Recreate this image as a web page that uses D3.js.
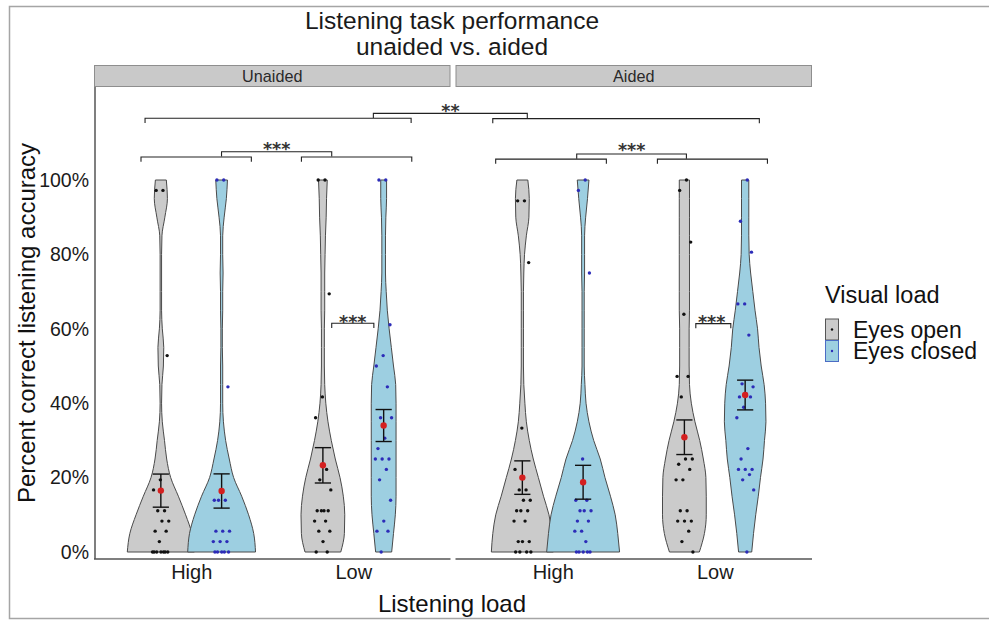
<!DOCTYPE html>
<html>
<head>
<meta charset="utf-8">
<script src="https://cdn.jsdelivr.net/npm/d3@7"></script>
<style>
  body { margin: 0; background: #fff; }
  svg { display: block; font-family: "Liberation Sans", Arial, sans-serif; }
</style>
</head>
<body>
<svg id="chart"></svg>
<script>
const panels = ['Unaided', 'Aided'];
const loads = ['High', 'Low'];
const visualLoads = ['Eyes open', 'Eyes closed'];
const yTicks = [0, 20, 40, 60, 80, 100];

// percent correct per participant (read from the jittered points)
const unaidedHighOpen = [97.2, 97.2, 52.8, 19.4, 16.7, 11.1, 11.1, 8.3, 8.3, 5.6, 5.6, 2.8, 0, 0, 0, 0, 0, 0, 0];
const unaidedHighClosed = [100, 100, 44.4, 16.7, 13.9, 13.9, 13.9, 5.6, 5.6, 5.6, 2.8, 2.8, 2.8, 0, 0, 0, 0, 0];
const unaidedLowOpen = [100, 100, 69.4, 41.7, 36.1, 22.2, 19.4, 16.7, 11.1, 11.1, 11.1, 11.1, 8.3, 8.3, 5.6, 5.6, 2.8, 0, 0];
const unaidedLowClosed = [100, 100, 61.1, 52.8, 50, 44.4, 36.1, 36.1, 30.6, 27.8, 25, 25, 25, 22.2, 19.4, 13.9, 8.3, 5.6, 5.6, 0];
const aidedHighOpen = [94.4, 94.4, 77.8, 33.3, 22.2, 16.7, 16.7, 13.9, 13.9, 11.1, 11.1, 11.1, 8.3, 8.3, 2.8, 2.8, 2.8, 0, 0, 0, 0];
const aidedHighClosed = [100, 97.2, 75, 25, 13.9, 13.9, 11.1, 11.1, 11.1, 8.3, 8.3, 5.6, 5.6, 2.8, 0, 0, 0, 0, 0];
const aidedLowOpen = [100, 97.2, 83.3, 63.9, 47.2, 47.2, 41.7, 25, 25, 23.6, 22.2, 19.4, 19.4, 11.1, 11.1, 8.3, 8.3, 8.3, 5.6, 2.8, 0];
const aidedLowClosed = [100, 88.9, 80.6, 66.7, 66.7, 58.3, 45.2, 44.4, 42.5, 41.7, 41.7, 38.9, 36.1, 27.8, 25, 22.2, 22.2, 22.2, 20.8, 19.4, 16.7, 0];

// violin density (relative to the widest violin) at these percent levels
const violinLevels = [0, 5, 10, 15, 20, 25, 30, 35, 40, 45, 50, 55, 60, 65, 70, 75, 80, 85, 90, 95, 100];
const densUnaidedHighOpen = [0.92, 0.85, 0.68, 0.48, 0.27, 0.16, 0.10, 0.04, 0.02, 0.03, 0.07, 0.08, 0.04, 0.02, 0.02, 0.02, 0.02, 0.03, 0.11, 0.18, 0.15];
const densUnaidedHighClosed = [0.93, 0.88, 0.74, 0.55, 0.33, 0.21, 0.11, 0.05, 0.03, 0.03, 0.03, 0.02, 0.02, 0.03, 0.03, 0.04, 0.03, 0.03, 0.07, 0.13, 0.16];
const densUnaidedLowOpen = [0.49, 0.59, 0.60, 0.56, 0.47, 0.34, 0.23, 0.14, 0.08, 0.05, 0.04, 0.04, 0.04, 0.05, 0.05, 0.05, 0.06, 0.07, 0.09, 0.10, 0.12];
const densUnaidedLowClosed = [0.22, 0.27, 0.32, 0.34, 0.34, 0.34, 0.34, 0.34, 0.34, 0.33, 0.27, 0.21, 0.15, 0.10, 0.07, 0.05, 0.05, 0.05, 0.06, 0.08, 0.08];
const densAidedHighOpen = [0.85, 0.81, 0.73, 0.58, 0.44, 0.30, 0.19, 0.11, 0.07, 0.04, 0.03, 0.03, 0.03, 0.03, 0.03, 0.04, 0.06, 0.11, 0.18, 0.19, 0.15];
const densAidedHighClosed = [1.00, 0.95, 0.88, 0.75, 0.60, 0.47, 0.29, 0.16, 0.08, 0.05, 0.03, 0.03, 0.03, 0.03, 0.03, 0.04, 0.04, 0.04, 0.07, 0.12, 0.16];
const densAidedLowOpen = [0.41, 0.55, 0.60, 0.60, 0.59, 0.52, 0.42, 0.29, 0.19, 0.14, 0.13, 0.13, 0.13, 0.14, 0.14, 0.14, 0.14, 0.14, 0.14, 0.14, 0.14];
const densAidedLowClosed = [0.18, 0.23, 0.29, 0.36, 0.42, 0.49, 0.53, 0.57, 0.56, 0.52, 0.44, 0.38, 0.34, 0.27, 0.21, 0.15, 0.11, 0.10, 0.10, 0.10, 0.10];

// mean and error bar half-length, order: High/open, High/closed, Low/open, Low/closed
const meansUnaided = [16.5, 16.4, 23.3, 34.0];
const errUnaided = [4.45, 4.6, 4.75, 4.3];
const meansAided = [20.0, 18.75, 30.85, 42.2];
const errAided = [4.5, 4.55, 4.65, 4.0];

// significance brackets, x in category units (High = 1, Low = 2), y in percent
const brackets = [
  { panel: 0, x1: 0.690, x2: 1.371, y: 106.2 },
  { panel: 0, x1: 1.680, x2: 2.361, y: 106.2 },
  { panel: 0, x1: 1.187, x2: 1.867, y: 107.6 },
  { panel: 1, x1: 0.648, x2: 1.331, y: 105.6 },
  { panel: 1, x1: 1.646, x2: 2.325, y: 105.6 },
  { panel: 1, x1: 1.148, x2: 1.825, y: 107.0 },
  { panel: 0, x1: 0.715, x2: 2.357, y: 116.6 },
  { panel: 1, x1: 0.630, x2: 2.275, y: 116.5 },
  { panel: 0, x1: 1.867, x2: 2.127, y: 61.5 },
  { panel: 1, x1: 1.883, x2: 2.099, y: 61.4 }
];
const crossBracket = { from: [0, 2.124], to: [1, 0.843], y: 117.9 };
const stars = [
  { panel: 0, x: 1.527, y: 109.4, label: '***' },
  { panel: 1, x: 1.487, y: 109.1, label: '***' },
  { panel: 0, x: 1.997, y: 63.0, label: '***' },
  { panel: 1, x: 1.981, y: 63.0, label: '***' },
  { panel: 0, x: 2.60, y: 119.6, label: '**' }
];

const width = 989, height = 620;
const svg = d3.select('#chart').attr('width', width).attr('height', height);

const fills = ['#cbcbcb', '#9dcfe1'];
const pointColors = ['#111111', '#2c2cb8'];

const panelLeft = [94, 455.5];
const panelW = 356.5;
const panelTop = 87, panelBottom = 559;

const y = d3.scaleLinear().domain([0, 100]).range([552, 180]);
const unit = d3.scaleLinear().domain([0.4, 2.6]).range([0, panelW]);
const loadPos = d3.scalePoint().domain(loads).range([1, 2]);
const dodge = 0.1875;
const wScale = d3.scaleLinear().domain([0, 1]).range([0, 0.225]);

const px = (p, u) => panelLeft[p] + unit(u);

// frame round the figure
svg.append('rect')
  .attr('x', 9.5).attr('y', 6.5)
  .attr('width', 990).attr('height', 612)
  .attr('fill', 'none').attr('stroke', '#a5a5a5').attr('stroke-width', 1.5);

// title
svg.append('text').attr('x', 452).attr('y', 29).attr('text-anchor', 'middle')
  .attr('font-size', 24.5).attr('fill', '#1a1a1a').text('Listening task performance');
svg.append('text').attr('x', 452).attr('y', 55).attr('text-anchor', 'middle')
  .attr('font-size', 24.5).attr('fill', '#1a1a1a').text('unaided vs. aided');

const groupData = [
  [unaidedHighOpen, unaidedHighClosed, unaidedLowOpen, unaidedLowClosed],
  [aidedHighOpen, aidedHighClosed, aidedLowOpen, aidedLowClosed]
];
const densData = [
  [densUnaidedHighOpen, densUnaidedHighClosed, densUnaidedLowOpen, densUnaidedLowClosed],
  [densAidedHighOpen, densAidedHighClosed, densAidedLowOpen, densAidedLowClosed]
];
const meanData = [meansUnaided, meansAided];
const errData = [errUnaided, errAided];

const centre = i => loadPos(loads[Math.floor(i / 2)]) + (i % 2 === 0 ? -dodge : dodge);

panels.forEach((name, p) => {
  const g = svg.append('g');
  const x0 = panelLeft[p];

  // strip
  g.append('rect')
    .attr('x', x0 + 0.5).attr('y', 65.5)
    .attr('width', panelW - 1).attr('height', 21)
    .attr('fill', '#c9c9c9').attr('stroke', '#8e8e8e').attr('stroke-width', 1);
  g.append('text')
    .attr('x', x0 + panelW / 2).attr('y', 82)
    .attr('text-anchor', 'middle').attr('font-size', 16.2).attr('fill', '#2a2a2a')
    .text(name);

  // violins
  densData[p].forEach((dens, i) => {
    const cu = centre(i);
    const rows = violinLevels.map((lv, k) => ({ lv, d: dens[k] }));
    const area = d3.area()
      .curve(d3.curveMonotoneY)
      .y(d => y(d.lv))
      .x0(d => px(p, cu - wScale(d.d)))
      .x1(d => px(p, cu + wScale(d.d)));
    g.append('path')
      .attr('d', area(rows))
      .attr('fill', fills[i % 2])
      .attr('stroke', '#4a4a4a').attr('stroke-width', 1);
  });

  // jittered points (golden-ratio spread instead of random jitter)
  groupData[p].forEach((vals, i) => {
    const cu = centre(i);
    g.selectAll(null)
      .data(vals)
      .join('circle')
      .attr('cx', (d, j) => px(p, cu + (((j + 1) * 0.618034) % 1 - 0.5) * 0.11))
      .attr('cy', d => y(d))
      .attr('r', 1.7)
      .attr('fill', pointColors[i % 2]);
  });

  // error bars and means
  meanData[p].forEach((m, i) => {
    const e = errData[p][i];
    const cx = px(p, centre(i));
    const cap = unit(0.05) - unit(0);
    g.append('line').attr('x1', cx).attr('x2', cx).attr('y1', y(m + e)).attr('y2', y(m - e))
      .attr('stroke', '#111').attr('stroke-width', 1.4);
    [m + e, m - e].forEach(v => {
      g.append('line').attr('x1', cx - cap).attr('x2', cx + cap).attr('y1', y(v)).attr('y2', y(v))
        .attr('stroke', '#111').attr('stroke-width', 1.4);
    });
    g.append('circle').attr('cx', cx).attr('cy', y(m)).attr('r', 3.2).attr('fill', '#d42020');
  });

  // bottom axis line and tick labels
  g.append('line')
    .attr('x1', x0).attr('x2', x0 + panelW)
    .attr('y1', panelBottom).attr('y2', panelBottom)
    .attr('stroke', '#555').attr('stroke-width', 1.5);
  const xAxis = d3.axisBottom(d3.scalePoint().domain(loads).range([x0 + unit(1), x0 + unit(2)]))
    .tickSize(0).tickPadding(6);
  const ax = g.append('g').attr('transform', `translate(0,${panelBottom})`).call(xAxis);
  ax.select('.domain').remove();
  ax.selectAll('text').attr('font-size', 20).attr('fill', '#1a1a1a')
    .attr('font-family', '"Liberation Sans", Arial, sans-serif');
});

// left axis
svg.append('line')
  .attr('x1', 95).attr('x2', 95).attr('y1', panelTop).attr('y2', panelBottom)
  .attr('stroke', '#555').attr('stroke-width', 1.5);
const yAxis = d3.axisLeft(y).tickValues(yTicks).tickFormat(d => d + '%').tickSize(0).tickPadding(6);
const ay = svg.append('g').attr('transform', 'translate(95,0)').call(yAxis);
ay.select('.domain').remove();
ay.selectAll('text').attr('font-size', 19.5).attr('fill', '#1a1a1a')
  .attr('font-family', '"Liberation Sans", Arial, sans-serif');

// significance brackets
const tick = 4.7;
const bl = svg.append('g').attr('fill', 'none').attr('stroke', '#222').attr('stroke-width', 1.1);
brackets.forEach(b => {
  const a = px(b.panel, b.x1), c = px(b.panel, b.x2), yy = y(b.y);
  bl.append('path').attr('d', `M${a},${yy + tick}V${yy}H${c}V${yy + tick}`);
});
{
  const a = px(crossBracket.from[0], crossBracket.from[1]);
  const c = px(crossBracket.to[0], crossBracket.to[1]);
  const yy = y(crossBracket.y);
  bl.append('path').attr('d', `M${a},${yy + tick}V${yy}H${c}V${yy + tick}`);
}
stars.forEach(s => {
  svg.append('text')
    .attr('x', px(s.panel, s.x)).attr('y', y(s.y) + 10)
    .attr('text-anchor', 'middle').attr('font-size', 17.5).attr('font-weight', 'bold')
    .attr('font-family', '"DejaVu Sans", sans-serif').attr('fill', '#333')
    .text(s.label);
});

// axis titles
svg.append('text').attr('x', 452).attr('y', 612).attr('text-anchor', 'middle')
  .attr('font-size', 24).attr('fill', '#111').text('Listening load');
svg.append('text').attr('transform', 'translate(35,323) rotate(-90)').attr('text-anchor', 'middle')
  .attr('font-size', 24).attr('fill', '#111').text('Percent correct listening accuracy');

// legend
const lg = svg.append('g').attr('transform', 'translate(825,0)');
lg.append('text').attr('x', 0).attr('y', 303).attr('font-size', 23.5).attr('fill', '#111').text('Visual load');
const keyStroke = ['#555', '#4b6cc4'];
visualLoads.forEach((v, i) => {
  const ky = 319 + i * 21.5;
  lg.append('rect').attr('x', 0.5).attr('y', ky).attr('width', 13).attr('height', 21)
    .attr('fill', fills[i]).attr('stroke', keyStroke[i]).attr('stroke-width', 1);
  lg.append('circle').attr('cx', 7).attr('cy', ky + 10.5).attr('r', 1.2).attr('fill', pointColors[i]);
  lg.append('text').attr('x', 28).attr('y', ky + 18.5).attr('font-size', 23).attr('fill', '#111').text(v);
});
</script>
</body>
</html>
